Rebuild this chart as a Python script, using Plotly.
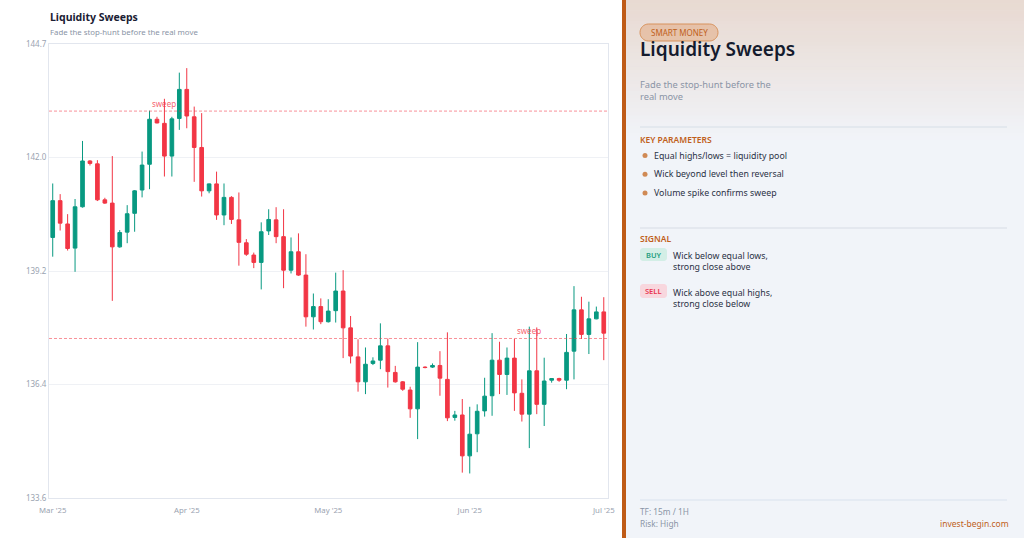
import numpy as np
import plotly.graph_objects as go

# ---------------- data ----------------
opens = [139.97, 140.87, 140.30, 139.71, 140.72, 141.84, 141.77, 140.89, 140.81, 139.74,
         140.10, 140.56, 141.13, 141.76, 142.86, 142.76, 141.96, 142.88, 143.59, 142.92,
         142.17, 141.11, 141.28, 140.52, 140.95, 140.40, 139.84, 139.54, 139.36, 140.13,
         140.40, 139.99, 139.17, 139.62, 139.05, 138.03, 138.28, 137.91, 138.18, 138.66,
         137.76, 137.05, 136.44, 136.89, 136.97, 137.32, 136.67, 136.44, 136.24, 135.78,
         136.80, 136.80, 136.84, 136.50, 135.57, 135.63, 134.63, 135.17, 135.73, 136.10,
         136.97, 136.62, 137.02, 136.16, 135.65, 136.71, 135.89, 136.48, 136.52, 136.48,
         137.19, 138.20, 137.60, 137.98, 138.15]
highs = [141.29, 141.03, 140.54, 140.91, 142.33, 141.86, 141.86, 140.94, 141.96, 140.15,
         140.76, 141.13, 142.07, 143.07, 142.92, 143.36, 142.92, 144.00, 144.11, 143.17,
         143.01, 141.29, 141.58, 141.29, 140.98, 141.07, 139.93, 139.60, 140.34, 140.66,
         140.71, 140.66, 139.97, 140.07, 139.56, 138.60, 138.48, 138.46, 139.11, 139.17,
         138.05, 137.48, 137.28, 137.04, 137.87, 137.50, 136.83, 136.46, 136.32, 137.41,
         136.82, 136.89, 137.19, 137.65, 135.73, 136.02, 135.83, 135.89, 136.54, 137.63,
         137.42, 137.28, 137.49, 136.50, 137.79, 137.77, 137.03, 136.53, 136.54, 137.61,
         138.78, 138.52, 138.40, 138.28, 138.51]
lows = [139.50, 140.14, 139.65, 139.13, 140.70, 141.73, 140.86, 140.79, 138.42, 139.72,
        139.83, 140.11, 140.95, 141.15, 142.76, 141.46, 141.46, 142.60, 142.64, 141.33,
        140.97, 141.05, 140.40, 140.27, 140.30, 139.28, 139.52, 139.22, 138.70, 140.03,
        139.83, 138.73, 139.09, 139.03, 137.79, 137.72, 137.85, 137.89, 137.89, 137.02,
        136.89, 136.20, 136.14, 136.85, 136.75, 136.30, 136.42, 136.22, 135.56, 135.04,
        136.77, 136.78, 136.10, 135.48, 135.49, 134.22, 134.20, 134.72, 135.59, 135.61,
        136.14, 136.12, 135.73, 135.47, 134.82, 135.65, 135.36, 136.42, 136.44, 136.26,
        136.50, 137.49, 137.12, 137.97, 136.97]
closes = [140.87, 140.32, 139.70, 140.72, 141.84, 141.78, 140.89, 140.81, 139.74, 140.09,
          140.55, 141.11, 141.74, 142.86, 142.77, 141.96, 142.87, 143.59, 142.94, 142.17,
          141.11, 141.28, 140.52, 140.95, 140.41, 139.85, 139.56, 139.36, 140.11, 140.41,
          139.99, 139.17, 139.62, 139.05, 138.03, 138.28, 137.91, 138.17, 138.66, 137.76,
          137.07, 136.44, 136.87, 136.95, 137.32, 136.69, 136.44, 136.26, 135.78, 136.80,
          136.79, 136.84, 136.53, 135.56, 135.63, 134.63, 135.16, 135.72, 136.09, 136.97,
          136.62, 137.02, 136.17, 135.65, 136.71, 135.89, 136.46, 136.52, 136.48, 137.16,
          138.20, 137.60, 137.98, 138.15, 137.63]
candle_idx = list(range(len(opens)))

month_tick_idx = [0, 18, 37, 56, 74]
month_tick_text = ["Mar '25", "Apr '25", "May '25", "Jun '25", "Jul '25"]

y_min, y_max = 133.6, 144.7
y_tick_text = ["133.6", "136.4", "139.2", "142.0", "144.7"]

sweep_levels = [143.06, 137.50]
sweep_label_idx = [15, 64]

key_params = ["Equal highs/lows = liquidity pool",
              "Wick beyond level then reversal",
              "Volume spike confirms sweep"]

# ---------------- helpers (layout, pixel -> paper) ----------------
W, H = 1024, 538
def px(x):
    return x / W
def py(y):
    return 1 - y / H

GREEN = "#089981"
RED = "#f23645"
ORANGE = "#c0601a"
FONT = "Noto Sans"

def rounded_rect(x0, y0, x1, y1, r):
    k = 0.5523 * r
    def P(x, y):
        return f"{px(x):.5f},{py(y):.5f}"
    d = (f"M {P(x0 + r, y0)} L {P(x1 - r, y0)} "
         f"C {P(x1 - r + k, y0)} {P(x1, y0 + r - k)} {P(x1, y0 + r)} "
         f"L {P(x1, y1 - r)} "
         f"C {P(x1, y1 - r + k)} {P(x1 - r + k, y1)} {P(x1 - r, y1)} "
         f"L {P(x0 + r, y1)} "
         f"C {P(x0 + r - k, y1)} {P(x0, y1 - r + k)} {P(x0, y1 - r)} "
         f"L {P(x0, y0 + r)} "
         f"C {P(x0, y0 + r - k)} {P(x0 + r - k, y0)} {P(x0 + r, y0)} Z")
    return d

fig = go.Figure()
fig.add_trace(go.Candlestick(
    x=candle_idx, open=opens, high=highs, low=lows, close=closes,
    increasing=dict(line=dict(color=GREEN, width=1), fillcolor=GREEN),
    decreasing=dict(line=dict(color=RED, width=1), fillcolor=RED),
    whiskerwidth=0, showlegend=False, hoverinfo="skip",
))

shapes = []
annotations = []

# sweep levels
for lvl, li in zip(sweep_levels, sweep_label_idx):
    shapes.append(dict(type="line", xref="x domain", yref="y", x0=0, x1=1, y0=lvl, y1=lvl,
                       line=dict(color="rgba(242,54,69,0.55)", width=1, dash="3px,2px"), layer="above"))
    annotations.append(dict(x=li, y=lvl, xref="x", yref="y", text="sweep", showarrow=False,
                            yanchor="bottom", yshift=0,
                            font=dict(size=8, color="rgba(242,54,69,0.8)", family=FONT)))

# chart title
annotations.append(dict(x=px(48), y=py(17), xref="paper", yref="paper", text="<b>Liquidity Sweeps</b>",
                        showarrow=False, xanchor="left", yanchor="middle",
                        font=dict(size=10.5, color="#1a2033", family=FONT)))
annotations.append(dict(x=px(48), y=py(32.5), xref="paper", yref="paper",
                        text="Fade the stop-hunt before the real move",
                        showarrow=False, xanchor="left", yanchor="middle",
                        font=dict(size=7.8, color="#8a94a6", family=FONT)))

# right panel background
shapes.append(dict(type="rect", xref="paper", yref="paper", x0=px(622), x1=1, y0=0, y1=1,
                   fillcolor="#f1f4f9", line=dict(width=0), layer="below"))
n_strips = 40
g_top, g_bot = 0, 140
for i in range(n_strips):
    y0 = g_top + (g_bot - g_top) * i / n_strips
    y1 = g_top + (g_bot - g_top) * (i + 1) / n_strips
    a = 0.18 * (1 - (i + 0.5) / n_strips)
    shapes.append(dict(type="rect", xref="paper", yref="paper", x0=px(622), x1=1, y0=py(y1), y1=py(y0),
                       fillcolor=f"rgba(192,96,26,{a:.4f})", line=dict(width=0), layer="below"))
shapes.append(dict(type="rect", xref="paper", yref="paper", x0=px(622), x1=px(626), y0=0, y1=1,
                   fillcolor="#bf5b17", line=dict(width=0), layer="below"))

# pill
shapes.append(dict(type="path", xref="paper", yref="paper", path=rounded_rect(640, 24, 718, 41, 8.5),
                   fillcolor="rgba(224,140,80,0.35)", line=dict(color="#d8925c", width=1)))
annotations.append(dict(x=px(679), y=py(32.5), xref="paper", yref="paper", text="SMART MONEY",
                        showarrow=False, xanchor="center", yanchor="middle",
                        font=dict(size=8, color=ORANGE, family=FONT)))

annotations.append(dict(x=px(638), y=py(49.5), xref="paper", yref="paper", text="Liquidity Sweeps",
                        showarrow=False, xanchor="left", yanchor="middle",
                        font=dict(size=19, color="#141b2d", family=FONT, weight=600)))
annotations.append(dict(x=px(638), y=py(90.5), xref="paper", yref="paper",
                        text="Fade the stop-hunt before the<br>real move",
                        showarrow=False, xanchor="left", yanchor="middle", align="left",
                        font=dict(size=9.3, color="#8a94a6", family=FONT)))

for ys in [127, 228]:
    shapes.append(dict(type="line", xref="paper", yref="paper", x0=px(640), x1=px(1007), y0=py(ys), y1=py(ys),
                       line=dict(color="#dfe4eb", width=1.5)))
shapes.append(dict(type="line", xref="paper", yref="paper", x0=px(640), x1=px(1007), y0=py(500), y1=py(500),
                   line=dict(color="#d9e2ee", width=1)))

annotations.append(dict(x=px(638), y=py(140), xref="paper", yref="paper", text="KEY PARAMETERS",
                        showarrow=False, xanchor="left", yanchor="middle",
                        font=dict(size=8.5, color=ORANGE, family=FONT, weight=600)))
for i, t in enumerate(key_params):
    yy = 155.5 + i * 18.7
    shapes.append(dict(type="circle", xref="paper", yref="paper",
                       x0=px(642.5), x1=px(647.5), y0=py(yy + 2.5), y1=py(yy - 2.5),
                       fillcolor="#d08a55", line=dict(width=0)))
    annotations.append(dict(x=px(652), y=py(yy), xref="paper", yref="paper", text=t,
                            showarrow=False, xanchor="left", yanchor="middle",
                            font=dict(size=8.8, color="#2b3245", family=FONT)))

annotations.append(dict(x=px(638), y=py(239), xref="paper", yref="paper", text="SIGNAL",
                        showarrow=False, xanchor="left", yanchor="middle",
                        font=dict(size=8.5, color=ORANGE, family=FONT, weight=600)))

badges = [("BUY", 248, 261, "#d3eee6", "#1f9e80", "Wick below equal lows,<br>strong close above", 261),
          ("SELL", 284, 298, "#f8d7de", "#e8344f", "Wick above equal highs,<br>strong close below", 298.5)]
for lab, y0, y1, bg, fg, txt, ty in badges:
    shapes.append(dict(type="path", xref="paper", yref="paper", path=rounded_rect(640, y0, 667, y1, 3),
                       fillcolor=bg, line=dict(width=0)))
    annotations.append(dict(x=px(653.5), y=py((y0 + y1) / 2), xref="paper", yref="paper", text=lab,
                            showarrow=False, xanchor="center", yanchor="middle",
                            font=dict(size=7.5, color=fg, family=FONT, weight=600)))
    annotations.append(dict(x=px(670.5), y=py(ty), xref="paper", yref="paper", text=txt,
                            showarrow=False, xanchor="left", yanchor="middle", align="left",
                            font=dict(size=8.8, color="#2b3245", family=FONT)))

annotations.append(dict(x=px(638), y=py(511), xref="paper", yref="paper", text="TF: 15m / 1H",
                        showarrow=False, xanchor="left", yanchor="middle",
                        font=dict(size=8.3, color="#8a94a6", family=FONT)))
annotations.append(dict(x=px(638), y=py(523), xref="paper", yref="paper", text="Risk: High",
                        showarrow=False, xanchor="left", yanchor="middle",
                        font=dict(size=8.3, color="#8a94a6", family=FONT)))
annotations.append(dict(x=px(1011), y=py(523), xref="paper", yref="paper", text="invest-begin.com",
                        showarrow=False, xanchor="right", yanchor="middle",
                        font=dict(size=8.5, color=ORANGE, family=FONT)))

fig.update_layout(
    width=W, height=H,
    margin=dict(l=0, r=0, t=0, b=0),
    paper_bgcolor="white", plot_bgcolor="white",
    font=dict(family=FONT, size=8.5, color="#9aa3b1"),
    boxgap=0.3,
    shapes=shapes, annotations=annotations,
    xaxis=dict(domain=[px(49), px(607.5)], range=[-0.5, 74.5], type="linear",
               tickvals=month_tick_idx, ticktext=month_tick_text,
               showgrid=False, zeroline=False, showline=True, mirror=True,
               linecolor="#e2e6ee", linewidth=1, ticks="", automargin=False,
               ticklabelstandoff=5,
               rangeslider=dict(visible=False),
               tickfont=dict(size=7.8, color="#9aa3b1")),
    yaxis=dict(domain=[py(498), py(44)], range=[y_min, y_max],
               tickvals=list(np.linspace(y_min, y_max, len(y_tick_text))), ticktext=y_tick_text,
               showgrid=True, gridcolor="#eff1f5", zeroline=False, showline=True, mirror=True,
               linecolor="#e2e6ee", linewidth=1, ticks="", automargin=False,
               tickfont=dict(size=8, color="#9aa3b1")),
)

fig.write_html("out.html")
